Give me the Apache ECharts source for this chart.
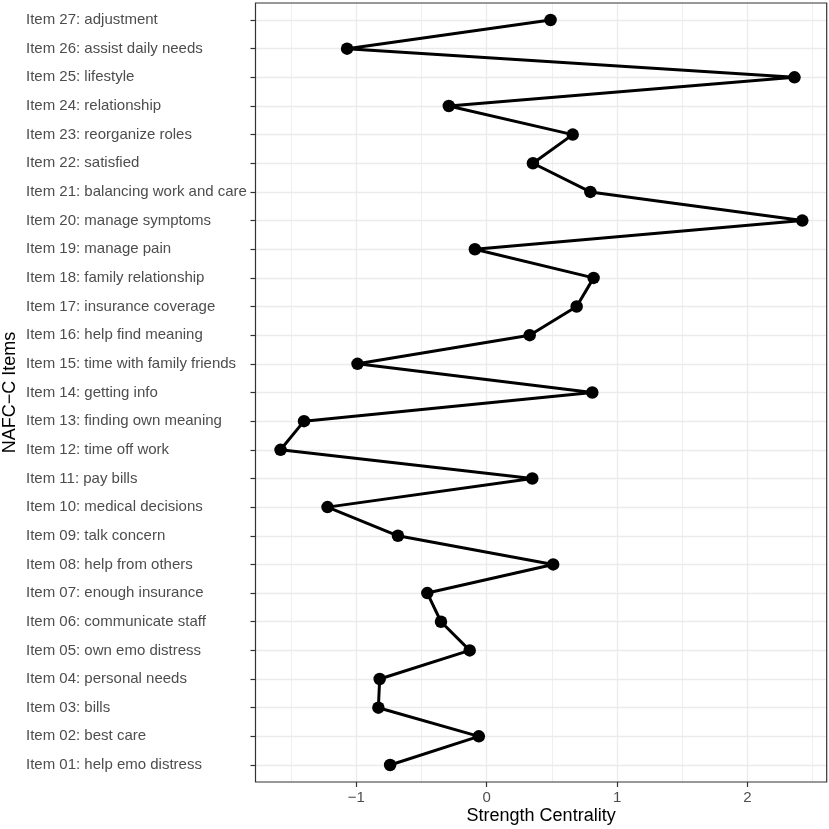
<!DOCTYPE html>
<html>
<head>
<meta charset="utf-8">
<script src="https://cdn.jsdelivr.net/npm/echarts@6/dist/echarts.min.js"></script>
<style>
html,body{margin:0;padding:0;background:#fff;}
#chart{width:829px;height:829px;}
</style>
</head>
<body>
<div id="chart"></div>
<script>
// Categories (bottom to top)
const items = [
  "Item 01: help emo distress",
  "Item 02: best care",
  "Item 03: bills",
  "Item 04: personal needs",
  "Item 05: own emo distress",
  "Item 06: communicate staff",
  "Item 07: enough insurance",
  "Item 08: help from others",
  "Item 09: talk concern",
  "Item 10: medical decisions",
  "Item 11: pay bills",
  "Item 12: time off work",
  "Item 13: finding own meaning",
  "Item 14: getting info",
  "Item 15: time with family friends",
  "Item 16: help find meaning",
  "Item 17: insurance coverage",
  "Item 18: family relationship",
  "Item 19: manage pain",
  "Item 20: manage symptoms",
  "Item 21: balancing work and care",
  "Item 22: satisfied",
  "Item 23: reorganize roles",
  "Item 24: relationship",
  "Item 25: lifestyle",
  "Item 26: assist daily needs",
  "Item 27: adjustment"
];
// Strength centrality values (same order)
const strength = [
  -0.74, -0.06, -0.83, -0.82, -0.13, -0.35, -0.455, 0.51, -0.68,
  -1.22, 0.35, -1.58, -1.40, 0.81, -0.99, 0.33, 0.69, 0.82, -0.09,
  2.42, 0.795, 0.355, 0.66, -0.29, 2.36, -1.07, 0.49
];
// Axis ticks
const majorTicks = [-1, 0, 1, 2];
const minorTicks = [-1.5, -0.5, 0.5, 1.5, 2.5];
const xMin = -1.772, xMax = 2.607;

const chart = echarts.init(document.getElementById('chart'), null, {renderer: 'canvas'});
const fontFam = 'Liberation Sans, Arial, sans-serif';
const L = 255.5, R = 2.3;
chart.setOption({
  animation: false,
  backgroundColor: '#ffffff',
  grid: [
    {left: L, right: R, top: 3, bottom: 47, show: true, borderColor: '#333333', borderWidth: 1.2,
     backgroundColor: 'transparent', z: 5, containLabel: false, outerBoundsMode: 'none'},
    {left: L, right: R, top: 20, bottom: 64, containLabel: false, outerBoundsMode: 'none'}
  ],
  xAxis: [
    {
      type: 'value', gridIndex: 0, min: xMin, max: xMax,
      axisLine: {show: false, onZero: false},
      axisTick: {show: true, length: 5, lineStyle: {color: '#333333', width: 1.2}, customValues: majorTicks},
      axisLabel: {
        customValues: majorTicks, margin: 8, color: '#4D4D4D', fontSize: 15, fontFamily: fontFam,
        formatter: v => (v < 0 ? '\u2212' + Math.abs(v) : String(v))
      },
      splitLine: {show: true, lineStyle: {color: '#EBEBEB', width: 1.3}},
      name: 'Strength Centrality', nameLocation: 'middle', nameGap: 25.5, nameMoveOverlap: false,
      nameTextStyle: {color: '#000000', fontSize: 18, fontFamily: fontFam}
    },
    {
      type: 'value', gridIndex: 0, min: xMin, max: xMax,
      axisLine: {show: false, onZero: false},
      axisTick: {show: false, customValues: minorTicks},
      axisLabel: {show: false},
      splitLine: {show: true, lineStyle: {color: '#EBEBEB', width: 0.8}}
    },
    {
      type: 'value', gridIndex: 1, min: xMin, max: xMax,
      axisLine: {show: false, onZero: false},
      axisTick: {show: false}, axisLabel: {show: false}, splitLine: {show: false}
    }
  ],
  yAxis: [
    {type: 'value', gridIndex: 0, min: 0, max: 1,
     axisLine: {show: false, onZero: false}, axisTick: {show: false}, axisLabel: {show: false}, splitLine: {show: false}},
    {
      type: 'category', gridIndex: 1, data: items, boundaryGap: false, position: 'left',
      axisLine: {show: false, onZero: false},
      axisTick: {show: true, length: 5, lineStyle: {color: '#333333', width: 1.2}},
      axisLabel: {
        align: 'left', margin: L - 26, color: '#4D4D4D', fontSize: 15, fontFamily: fontFam, interval: 0
      },
      splitLine: {show: true, lineStyle: {color: '#EBEBEB', width: 1.3}},
      name: 'NAFC\u2212C Items', nameLocation: 'middle', nameGap: 236, nameMoveOverlap: false,
      nameTextStyle: {color: '#000000', fontSize: 18, fontFamily: fontFam}
    }
  ],
  series: [{
    type: 'line', xAxisIndex: 2, yAxisIndex: 1,
    data: strength.map((v, i) => [v, items[i]]),
    symbol: 'circle', symbolSize: 12.5, showSymbol: true,
    lineStyle: {color: '#000000', width: 3},
    itemStyle: {color: '#000000'},
    z: 10
  }]
});
</script>
</body>
</html>
